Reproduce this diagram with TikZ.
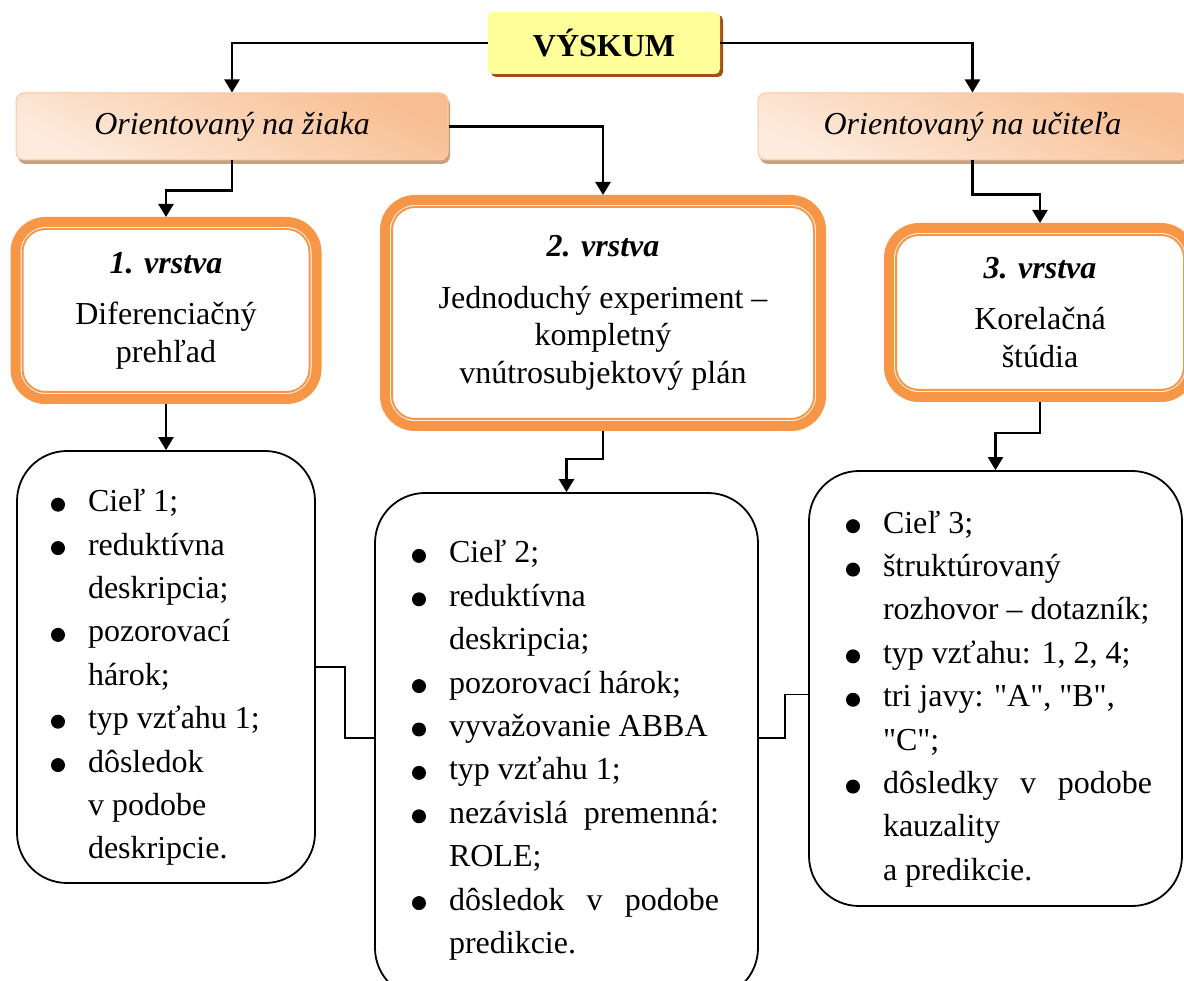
\documentclass[tikz,border=0pt]{standalone}
\usepackage{fontspec}
\setmainfont{Liberation Serif}
\usetikzlibrary{arrows.meta,shadows}
\definecolor{rootfill}{RGB}{255,255,153}
\definecolor{rootshade}{RGB}{158,80,24}
\definecolor{peachlight}{RGB}{253,235,222}
\definecolor{peachdark}{RGB}{248,190,145}
\definecolor{peachedge}{RGB}{250,200,160}
\definecolor{peachshade}{RGB}{200,160,130}
\definecolor{layerorange}{RGB}{247,150,70}
\newcommand{\itm}{\par\noindent\hangindent=35pt\hangafter=1%
  \makebox[35pt][l]{\hspace{-2pt}\tikz[baseline=-7pt]\fill (0,0) circle (7pt);}}

\begin{document}
\begin{tikzpicture}[x=1pt, y=-1pt, >={Triangle[length=13pt, width=15pt]},
    every node/.style={inner sep=0pt, font=\fontsize{32}{37.5}\selectfont},
    rootbox/.style={fill=rootfill, rounded corners=5pt, minimum width=232pt, minimum height=62pt,
        font=\fontsize{32}{37.5}\selectfont\bfseries,
        drop shadow={shadow xshift=3pt, shadow yshift=-3pt, fill=rootshade, opacity=1}},
    orientbox/.style={draw=peachedge, line width=1pt, rounded corners=8pt,
        top color=peachdark, bottom color=peachlight, shading angle=-25, minimum height=67pt,
        font=\fontsize{32}{37.5}\selectfont\itshape,
        drop shadow={shadow xshift=2pt, shadow yshift=-4pt, fill=peachshade, opacity=1}},
    layerbox/.style={draw=layerorange, fill=white, line width=10pt, rounded corners=30pt, align=center},
    listbox/.style={draw, line width=1.8pt, rounded corners=50pt, align=justify,
        font=\fontsize{32}{43.4}\selectfont},
    arr/.style={->, line width=2.5pt},
    link/.style={line width=1.5pt}]
    \path[use as bounding box, fill=white] (0,0) rectangle (1184,981);
    % top levels
    \node[rootbox] (vys) at (604,43) {VÝSKUM};
    \node[orientbox, minimum width=432pt] (ziak) at (232,126.5) {Orientovaný na žiaka};
    \node[orientbox, minimum width=429pt] (ucit) at (972.5,126.5) {Orientovaný na učiteľa};
    % layers
    \node[layerbox, minimum width=301pt, minimum height=177pt] (lay1) at (166,310.5)
        {\textbf{\textit{1. vrstva}}\\[14pt]Diferenciačný\\prehľad};
    \node[layerbox, minimum width=436pt, minimum height=226pt] (lay2) at (603,313)
        {\textbf{\textit{2. vrstva}}\\[14pt]Jednoduchý experiment –\\kompletný\\vnútrosubjektový plán};
    \node[layerbox, minimum width=302pt, minimum height=169pt] (lay3) at (1040,312.5)
        {\textbf{\textit{3. vrstva}}\\[14pt]Korelačná\\štúdia};
    \foreach \n in {lay1,lay2,lay3}
        \draw[layerorange, line width=2pt, rounded corners=23pt]
            ([shift={(12,-12)}]\n.south west) rectangle ([shift={(-12,12)}]\n.north east);
    % lists
    \node[listbox, text width=226pt, minimum width=298pt, minimum height=432pt] (bul1) at (166,667)
        {\itm\rule{0pt}{30pt}Cieľ 1;
         \itm reduktívna\\deskripcia;
         \itm pozorovací\\hárok;
         \itm typ vzťahu 1;
         \itm dôsledok\\v podobe\\deskripcie.\par};
    \node[listbox, text width=305pt, minimum width=383pt, minimum height=505pt] (bul2) at (566.5,745.5)
        {\itm Cieľ 2;
         \itm reduktívna\\deskripcia;
         \itm pozorovací hárok;
         \itm vyvažovanie ABBA
         \itm typ vzťahu 1;
         \itm nezávislá premenná:\linebreak ROLE;
         \itm dôsledok v podobe\linebreak predikcie.\rule[-18pt]{0pt}{0pt}\par};
    \node[listbox, text width=295pt, minimum width=373pt, minimum height=435pt] (bul3) at (995.5,688.5)
        {\rightskip=-9pt
         \itm\rule{0pt}{33pt}Cieľ 3;
         \itm štruktúrovaný\\rozhovor – dotazník;
         \itm typ vzťahu: 1, 2, 4;
         \itm tri javy: \textquotedbl A\textquotedbl, \textquotedbl B\textquotedbl,\\\textquotedbl C\textquotedbl;
         \itm dôsledky v podobe\linebreak kauzality\\a predikcie.\par};
    % connectors
    \draw[arr] (vys.west) -| (ziak.north);
    \draw[arr] (vys.east) -| (ucit.north);
    \draw[arr] (ziak.east) -| (lay2.north);
    \draw[arr] (ziak.south) -- ++(0,30) -| (lay1.north);
    \draw[arr] (ucit.south) -- ++(0,34) -| (lay3.north);
    \draw[arr] (lay1.south) -- (bul1.north);
    \draw[arr] (lay2.south) -- ++(0,28) -| (bul2.north);
    \draw[arr] (lay3.south) -- ++(0,31) -| (bul3.north);
    \draw[link] (bul1.east) -- ++(29,0) |- ([yshift=7.5pt]bul2.west);
    \draw[link] ([yshift=7.5pt]bul2.east) -- ++(26,0) |- ([yshift=-6pt]bul3.west);
\end{tikzpicture}
\end{document}
